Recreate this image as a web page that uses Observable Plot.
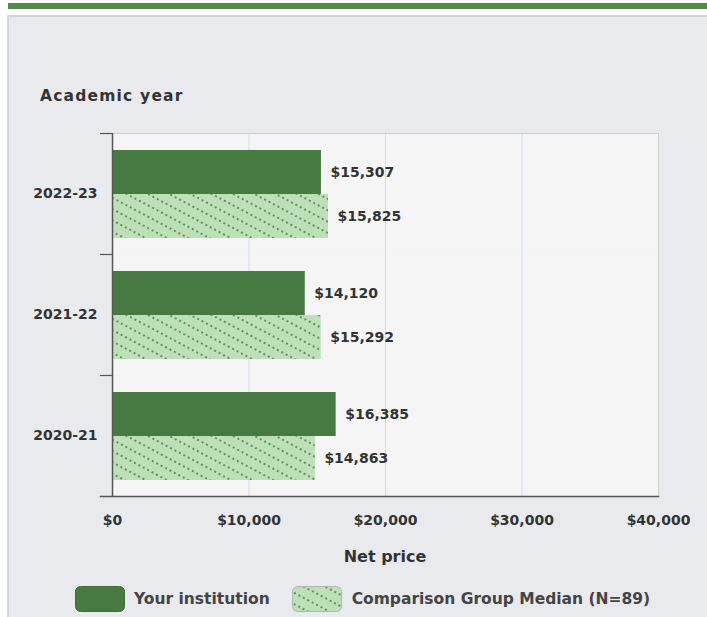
<!DOCTYPE html>
<html>
<head>
<meta charset="utf-8">
<script src="https://cdn.jsdelivr.net/npm/d3@7"></script>
<script src="https://cdn.jsdelivr.net/npm/@observablehq/plot@0.6"></script>
<style>
  body { margin:0; width:707px; height:617px; position:relative; overflow:hidden; background:#fff; font-family:"DejaVu Sans", sans-serif; color:#333; }
  #topbar { position:absolute; left:8px; top:3px; right:0; height:6px; background:#508b4b; }
  #panel { position:absolute; left:7px; top:15px; width:710px; height:620px; background:#e9eaee; border:2px solid #d3d4d6; box-sizing:border-box; }
  #title { position:absolute; left:40px; top:87px; font-weight:bold; font-size:15.5px; letter-spacing:1.2px; line-height:18px; color:#333; }
  #chart { position:absolute; left:0; top:120px; }
  #xlabel { position:absolute; left:112px; width:546px; top:548px; text-align:center; font-weight:bold; font-size:16px; line-height:18px; color:#333; }
  #legend { position:absolute; left:75px; top:586px; display:flex; align-items:center; font-weight:bold; font-size:15.5px; color:#444; }
  .sw { width:50px; height:26px; display:block; }
  .lab { margin-left:9px; margin-right:22px; }
</style>
</head>
<body>
<div id="topbar"></div>
<div id="panel"></div>
<div id="title">Academic year</div>
<div id="chart"></div>
<div id="xlabel">Net price</div>
<div id="legend"></div>
<script>
// ---- data ----
const years = ["2022-23", "2021-22", "2020-21"];
const seriesNames = ["Your institution", "Comparison Group Median (N=89)"];
const institution = [15307, 14120, 16385];
const comparison = [15825, 15292, 14863];
const xTicks = [0, 10000, 20000, 30000, 40000];

const data = years.flatMap((yr, i) => [
  {year: yr, series: seriesNames[0], value: institution[i]},
  {year: yr, series: seriesNames[1], value: comparison[i]}
]);

const dark = "#477a41";
const fmt = v => "$" + d3.format(",")(v);
const hatch = id =>
  '<pattern id="' + id + '" patternUnits="userSpaceOnUse" width="10" height="10" patternTransform="rotate(28)">' +
  '<rect width="10" height="10" fill="#bfdfba"/>' +
  '<line x1="0" y1="5" x2="10" y2="5" stroke="#589852" stroke-width="2" stroke-dasharray="2 3"/>' +
  '</pattern>';

const W = 707, H = 410, mL = 112, mR = 49, mT = 12, mB = 34;
const plotW = W - mL - mR;

const chart = Plot.plot({
  width: W, height: H,
  marginLeft: mL, marginRight: mR, marginTop: mT, marginBottom: mB,
  style: {background: "transparent", fontFamily: "DejaVu Sans, sans-serif", fontSize: "14px", fontWeight: "bold", color: "#333", overflow: "visible"},
  x: {domain: [xTicks[0], xTicks[xTicks.length - 1]], axis: null, label: null},
  y: {domain: seriesNames, axis: null, paddingInner: 0, paddingOuter: 0.375},
  fy: {domain: years, padding: 0, axis: null, label: null},
  color: {domain: seriesNames, range: [dark, "url(#cmpHatch)"]},
  marks: [
    Plot.frame({fill: "#f5f5f5"}),
    Plot.gridX(xTicks.filter((t, i) => i > 0 && i < xTicks.length - 1), {stroke: "#d3dbef", strokeOpacity: 1}),
    Plot.frame({anchor: "top", stroke: "#cfcfcf", fy: () => years[0]}),
    Plot.frame({anchor: "right", stroke: "#cfcfcf"}),
    Plot.barX(data, {fy: "year", y: "series", x: "value", fill: "series"}),
    Plot.text(data, {fy: "year", y: "series", x: "value", text: d => fmt(d.value), textAnchor: "start", dx: 9, fill: "#333"}),
    Plot.ruleX([0], {stroke: "#555", strokeWidth: 1.5}),
    Plot.frame({anchor: "top", insetLeft: -12, insetRight: plotW, stroke: "#555", strokeWidth: 1.2}),
    Plot.frame({anchor: "bottom", insetLeft: -12, stroke: "#555", strokeWidth: 1.5, fy: () => years[years.length - 1]}),
    Plot.axisX(xTicks, {anchor: "bottom", tickSize: 0, tickPadding: 19, tickFormat: fmt, label: null, fill: "#333"}),
    Plot.axisFy({anchor: "left", tickSize: 0, tickPadding: 15, label: null, fill: "#333"})
  ]
});

d3.select(chart).insert("defs", ":first-child").html(hatch("cmpHatch"));
document.getElementById("chart").appendChild(chart);

// ---- legend ----
const legend = document.getElementById("legend");
legend.innerHTML =
  '<svg class="sw" viewBox="0 0 50 26"><rect x="0.5" y="0.5" width="49" height="25" rx="5" fill="' + dark + '" stroke="#3f6e3a"/></svg>' +
  '<span class="lab">' + seriesNames[0] + '</span>' +
  '<svg class="sw" viewBox="0 0 50 26"><defs>' + hatch("legHatch") + '</defs>' +
  '<rect x="0.5" y="0.5" width="49" height="25" rx="5" fill="url(#legHatch)" stroke="#b0b8b0"/></svg>' +
  '<span class="lab" style="margin-right:0;margin-left:10px">' + seriesNames[1] + '</span>';
</script>
</body>
</html>
